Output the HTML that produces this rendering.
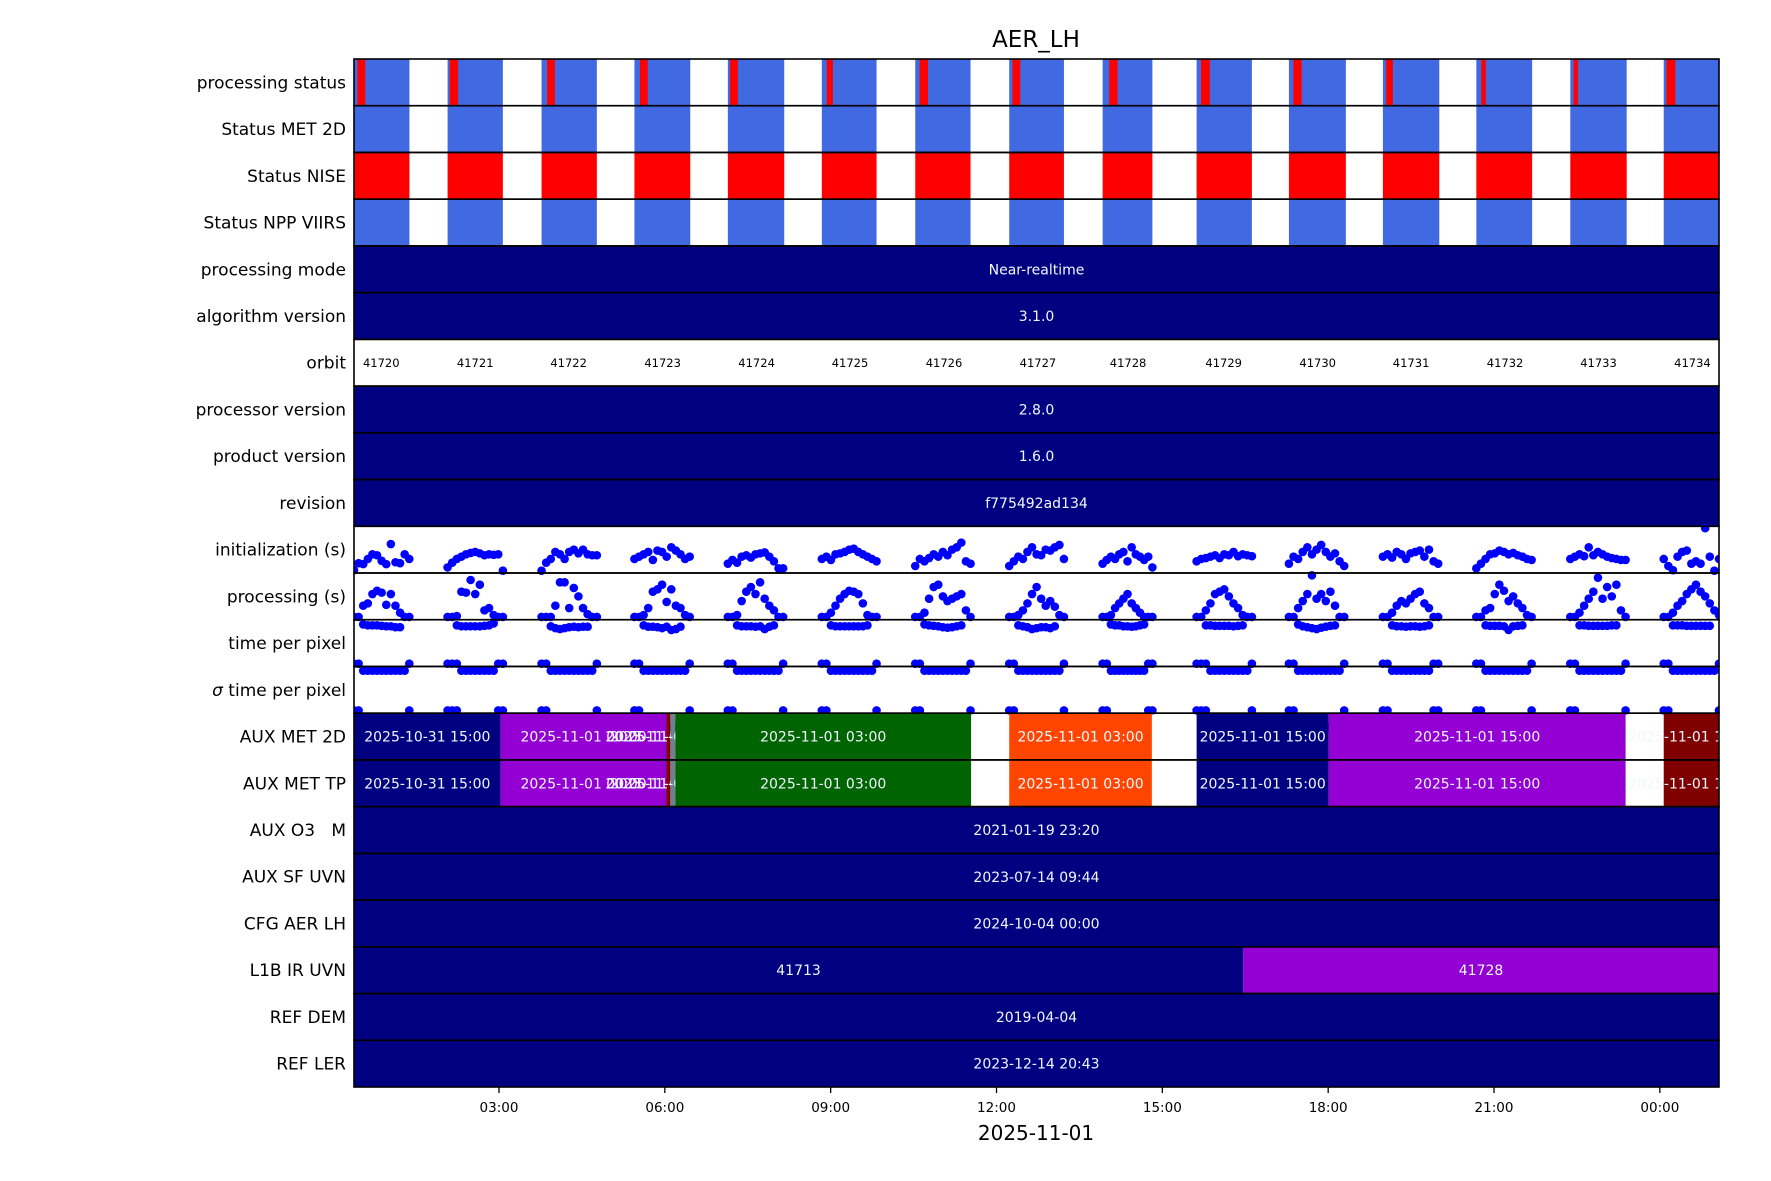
<!DOCTYPE html>
<html><head><meta charset="utf-8"><title>AER_LH</title>
<style>
html,body{margin:0;padding:0;background:#fff;}
svg{display:block;font-family:"DejaVu Sans","Liberation Sans",sans-serif;}
</style></head>
<body>
<svg id="chart" width="1771" height="1181" viewBox="0 0 1771 1181" xmlns="http://www.w3.org/2000/svg">
<text x="1036" y="47" font-size="23" text-anchor="middle" fill="#000">AER_LH</text>
<g id="bars"></g>
<g id="points"></g>
<g id="bars2"></g>
<g id="frames"></g>
<g id="ylabels"></g>
<g id="xaxis"></g>
<text x="1036" y="1140" font-size="20" text-anchor="middle" fill="#000">2025-11-01</text>
</svg>
<script>
const rowLabels = ["processing status","Status MET 2D","Status NISE","Status NPP VIIRS","processing mode","algorithm version","orbit","processor version","product version","revision","initialization (s)","processing (s)","time per pixel","\u03c3 time per pixel","AUX MET 2D","AUX MET TP","AUX O3   M","AUX SF UVN","CFG AER LH","L1B IR UVN","REF DEM","REF LER"];
const segStart = [0.377,2.07,3.77,5.45,7.14,8.84,10.53,12.23,13.92,15.62,17.29,18.99,20.68,22.38,24.07];
const segEnd = [1.38,3.07,4.77,6.46,8.16,9.83,11.53,13.22,14.82,16.62,18.32,20.01,21.69,23.40,25.07];
const failStart = [0.44,2.11,3.87,5.55,7.18,8.93,10.61,12.29,14.04,15.70,17.37,19.05,20.77,22.44,24.12];
const failEnd = [0.58,2.26,4.01,5.69,7.32,9.04,10.76,12.43,14.19,15.86,17.52,19.17,20.85,22.52,24.28];
const orbitCenters = [0.87,2.57,4.26,5.96,7.66,9.35,11.05,12.75,14.38,16.11,17.81,19.50,21.20,22.89,24.59];
const orbitNumbers = ["41720","41721","41722","41723","41724","41725","41726","41727","41728","41729","41730","41731","41732","41733","41734"];
const tickHours = [3,6,9,12,15,18,21,24];
const tickLabels = ["03:00","06:00","09:00","12:00","15:00","18:00","21:00","00:00"];
const auxMetStart = [0.377,3.03,6.03,6.10,6.19,12.23,15.62,18.01,24.07];
const auxMetEnd = [3.03,6.03,6.10,6.19,11.54,14.81,18.01,23.38,25.07];
const auxMetColor = ["#000080","#9400d3","#800000","#708090","#006400","#ff4500","#000080","#9400d3","#800000"];
const auxMetText = ["2025-10-31 15:00","2025-11-01 00:00","2025-11-01 03:00","2025-11-01 03:00","2025-11-01 03:00","2025-11-01 03:00","2025-11-01 15:00","2025-11-01 15:00","2025-11-01 15:00"];
const l1bStart = [0.377,16.46];
const l1bEnd = [16.46,25.07];
const l1bColor = ["#000080","#9400d3"];
const l1bText = ["41713","41728"];
const singleRows = {4:"Near-realtime",5:"3.1.0",7:"2.8.0",8:"1.6.0",9:"f775492ad134",16:"2021-01-19 23:20",17:"2023-07-14 09:44",18:"2024-10-04 00:00",20:"2019-04-04",21:"2023-12-14 20:43"};
const pointOffsetsMin = [0,5,10,15,20,25,30,35,40,45,50,55,60];
const initVals = [
[0.06,0.21,0.19,0.30,0.40,0.38,0.26,0.19,0.62,0.23,0.21,0.40,0.30],
[0.12,0.22,0.30,0.35,0.40,0.43,0.45,0.42,0.38,0.40,0.39,0.40,0.05],
[0.05,0.22,0.30,0.45,0.40,0.30,0.45,0.50,0.42,0.50,0.40,0.38,0.38],
[0.30,0.35,0.40,0.45,0.28,0.48,0.45,0.35,0.55,0.48,0.40,0.30,0.35],
[0.20,0.28,0.22,0.35,0.38,0.33,0.40,0.42,0.44,0.35,0.25,0.10,0.10],
[0.30,0.35,0.28,0.40,0.42,0.45,0.50,0.52,0.45,0.40,0.35,0.30,0.25],
[0.15,0.30,0.25,0.32,0.40,0.35,0.45,0.38,0.50,0.55,0.65,0.25,0.20],
[0.15,0.25,0.35,0.30,0.45,0.55,0.40,0.38,0.50,0.48,0.55,0.60,0.30],
[0.20,0.28,0.35,0.30,0.40,0.45,0.25,0.55,0.40,0.35,0.28,0.35,0.12],
[0.25,0.30,0.32,0.35,0.38,0.32,0.40,0.38,0.45,0.36,0.40,0.38,0.36],
[0.20,0.35,0.30,0.45,0.55,0.40,0.50,0.60,0.45,0.35,0.42,0.25,0.15],
[0.35,0.40,0.33,0.45,0.40,0.30,0.42,0.45,0.48,0.35,0.50,0.25,0.20],
[0.10,0.20,0.30,0.40,0.42,0.48,0.45,0.40,0.43,0.38,0.35,0.30,0.28],
[0.30,0.35,0.40,0.36,0.55,0.38,0.45,0.40,0.35,0.32,0.30,0.28,0.28],
[0.30,0.15,0.06,0.35,0.45,0.48,0.20,0.25,0.20,0.96,0.35,0.05,0.30]];
const procVals = [
[0.06,0.06,0.30,0.35,0.55,0.62,0.58,0.32,0.55,0.30,0.15,0.06,0.06],
[0.06,0.06,0.08,0.60,0.58,0.85,0.55,0.75,0.20,0.25,0.10,0.06,0.06],
[0.06,0.06,0.06,0.30,0.80,0.80,0.25,0.68,0.50,0.25,0.12,0.06,0.06],
[0.06,0.06,0.10,0.25,0.60,0.65,0.75,0.38,0.65,0.30,0.25,0.10,0.06],
[0.06,0.06,0.10,0.40,0.60,0.70,0.55,0.80,0.45,0.30,0.20,0.06,0.06],
[0.06,0.06,0.15,0.30,0.45,0.55,0.62,0.60,0.55,0.35,0.10,0.06,0.06],
[0.06,0.06,0.15,0.45,0.70,0.75,0.50,0.40,0.45,0.50,0.55,0.20,0.06],
[0.06,0.06,0.10,0.20,0.35,0.55,0.70,0.45,0.30,0.40,0.28,0.10,0.06],
[0.06,0.06,0.10,0.25,0.35,0.45,0.55,0.35,0.25,0.15,0.06,0.06,0.06],
[0.06,0.06,0.20,0.35,0.55,0.60,0.65,0.50,0.35,0.25,0.10,0.06,0.06],
[0.06,0.06,0.25,0.40,0.55,0.95,0.45,0.55,0.40,0.60,0.30,0.06,0.06],
[0.06,0.06,0.15,0.30,0.40,0.35,0.45,0.55,0.60,0.35,0.25,0.06,0.06],
[0.06,0.06,0.20,0.25,0.55,0.75,0.62,0.40,0.50,0.35,0.25,0.10,0.06],
[0.06,0.06,0.15,0.30,0.45,0.60,0.90,0.45,0.70,0.50,0.75,0.20,0.06],
[0.06,0.06,0.15,0.30,0.40,0.55,0.65,0.75,0.60,0.50,0.35,0.20,0.10]];
const procLowVals = [
[null,null,-0.10,-0.12,-0.12,-0.12,-0.13,-0.14,-0.14,-0.16,-0.16,null,null],
[null,null,-0.12,-0.14,-0.14,-0.14,-0.14,-0.14,-0.13,-0.12,-0.08,null,null],
[null,null,-0.14,-0.18,-0.20,-0.18,-0.16,-0.15,-0.16,-0.15,-0.15,null,null],
[null,null,-0.12,-0.15,-0.15,-0.16,-0.18,-0.15,-0.22,-0.20,-0.15,null,null],
[null,null,-0.12,-0.14,-0.14,-0.14,-0.15,-0.14,-0.20,-0.15,-0.12,null,null],
[null,null,-0.12,-0.14,-0.14,-0.14,-0.14,-0.14,-0.14,-0.14,-0.12,null,null],
[null,null,-0.10,-0.12,-0.13,-0.14,-0.16,-0.17,-0.16,-0.14,-0.12,null,null],
[null,null,-0.12,-0.14,-0.16,-0.20,-0.18,-0.16,-0.16,-0.18,-0.14,null,null],
[null,null,-0.10,-0.12,-0.12,-0.14,-0.14,-0.15,-0.14,-0.12,-0.10,null,null],
[null,null,-0.12,-0.12,-0.13,-0.13,-0.13,-0.13,-0.14,-0.13,-0.12,null,null],
[null,null,-0.10,-0.14,-0.16,-0.18,-0.20,-0.17,-0.15,-0.13,-0.12,null,null],
[null,null,-0.12,-0.14,-0.14,-0.15,-0.14,-0.14,-0.15,-0.14,-0.12,null,null],
[null,null,-0.12,-0.13,-0.13,-0.13,-0.14,-0.22,-0.14,-0.13,-0.12,null,null],
[null,null,-0.12,-0.12,-0.13,-0.13,-0.13,-0.13,-0.13,-0.12,-0.12,null,null],
[null,null,-0.12,-0.12,-0.12,-0.13,-0.13,-0.13,-0.13,-0.13,-0.13,null,null]];
const tppVals = [
[0.06,0.06,-0.09,-0.09,-0.09,-0.09,-0.09,-0.09,-0.09,-0.09,-0.09,-0.09,0.06],
[0.06,0.06,0.06,-0.09,-0.09,-0.09,-0.09,-0.09,-0.09,-0.09,-0.09,0.06,0.06],
[0.06,0.06,-0.09,-0.09,-0.09,-0.09,-0.09,-0.09,-0.09,-0.09,-0.09,-0.09,0.06],
[0.06,0.06,-0.09,-0.09,-0.09,-0.09,-0.09,-0.09,-0.09,-0.09,-0.09,-0.09,0.06],
[0.06,0.06,-0.09,-0.09,-0.09,-0.09,-0.09,-0.09,-0.09,-0.09,-0.09,-0.09,0.06],
[0.06,0.06,-0.09,-0.09,-0.09,-0.09,-0.09,-0.09,-0.09,-0.09,-0.09,-0.09,0.06],
[0.06,0.06,-0.09,-0.09,-0.09,-0.09,-0.09,-0.09,-0.09,-0.09,-0.09,-0.09,0.06],
[0.06,0.06,-0.09,-0.09,-0.09,-0.09,-0.09,-0.09,-0.09,-0.09,-0.09,-0.09,0.06],
[0.06,0.06,-0.09,-0.09,-0.09,-0.09,-0.09,-0.09,-0.09,-0.09,-0.09,0.06,0.06],
[0.06,0.06,0.06,-0.09,-0.09,-0.09,-0.09,-0.09,-0.09,-0.09,-0.09,-0.09,0.06],
[0.06,0.06,-0.09,-0.09,-0.09,-0.09,-0.09,-0.09,-0.09,-0.09,-0.09,-0.09,0.06],
[0.06,0.06,-0.09,-0.09,-0.09,-0.09,-0.09,-0.09,-0.09,-0.09,-0.09,0.06,0.06],
[0.06,0.06,-0.09,-0.09,-0.09,-0.09,-0.09,-0.09,-0.09,-0.09,-0.09,-0.09,0.06],
[0.06,0.06,-0.09,-0.09,-0.09,-0.09,-0.09,-0.09,-0.09,-0.09,-0.09,-0.09,0.06],
[0.06,0.06,-0.09,-0.09,-0.09,-0.09,-0.09,-0.09,-0.09,-0.09,-0.09,-0.09,0.06]];
const sigmaVals = [
[0.06,0.06,-0.3,-0.3,-0.3,-0.3,-0.3,-0.3,-0.3,-0.3,-0.3,-0.3,0.06],
[0.06,0.06,0.06,-0.3,-0.3,-0.3,-0.3,-0.3,-0.3,-0.3,-0.3,0.06,0.06],
[0.06,0.06,-0.3,-0.3,-0.3,-0.3,-0.3,-0.3,-0.3,-0.3,-0.3,-0.3,0.06],
[0.06,0.06,-0.3,-0.3,-0.3,-0.3,-0.3,-0.3,-0.3,-0.3,-0.3,-0.3,0.06],
[0.06,0.06,-0.3,-0.3,-0.3,-0.3,-0.3,-0.3,-0.3,-0.3,-0.3,-0.3,0.06],
[0.06,0.06,-0.3,-0.3,-0.3,-0.3,-0.3,-0.3,-0.3,-0.3,-0.3,-0.3,0.06],
[0.06,0.06,-0.3,-0.3,-0.3,-0.3,-0.3,-0.3,-0.3,-0.3,-0.3,-0.3,0.06],
[0.06,0.06,-0.3,-0.3,-0.3,-0.3,-0.3,-0.3,-0.3,-0.3,-0.3,-0.3,0.06],
[0.06,0.06,-0.3,-0.3,-0.3,-0.3,-0.3,-0.3,-0.3,-0.3,-0.3,0.06,0.06],
[0.06,0.06,0.06,-0.3,-0.3,-0.3,-0.3,-0.3,-0.3,-0.3,-0.3,-0.3,0.06],
[0.06,0.06,-0.3,-0.3,-0.3,-0.3,-0.3,-0.3,-0.3,-0.3,-0.3,-0.3,0.06],
[0.06,0.06,-0.3,-0.3,-0.3,-0.3,-0.3,-0.3,-0.3,-0.3,-0.3,0.06,0.06],
[0.06,0.06,-0.3,-0.3,-0.3,-0.3,-0.3,-0.3,-0.3,-0.3,-0.3,-0.3,0.06],
[0.06,0.06,-0.3,-0.3,-0.3,-0.3,-0.3,-0.3,-0.3,-0.3,-0.3,-0.3,0.06],
[0.06,0.06,-0.3,-0.3,-0.3,-0.3,-0.3,-0.3,-0.3,-0.3,-0.3,-0.3,0.06]];

const NS = "http://www.w3.org/2000/svg";
const X0 = 354, X1 = 1719, Y0 = 59, Y1 = 1087;
const H0 = 0.377, H1 = 25.07;
const rowH = (Y1 - Y0) / rowLabels.length;
function xScale(h){ return X0 + (h - H0) / (H1 - H0) * (X1 - X0); }
function rowTop(i){ return Y0 + i * rowH; }
function yScale(i, v){ return rowTop(i) + rowH - v * rowH; }
function mk(tag, attrs, parent){ const e = document.createElementNS(NS, tag); for (const k in attrs) e.setAttribute(k, attrs[k]); parent.appendChild(e); return e; }
const gBars = document.getElementById('bars'), gPts = document.getElementById('points'), gBars2 = document.getElementById('bars2');
const gFrames = document.getElementById('frames'), gY = document.getElementById('ylabels'), gX = document.getElementById('xaxis');

function bar(parent, row, h0, h1, color, name){
  const a = Math.max(xScale(h0), X0), b = Math.min(xScale(h1), X1);
  const r = mk('rect', {x:a, y:rowTop(row), width:Math.max(b-a,0), height:rowH, fill:color}, parent);
  
  
  return [a,b];
}
function label(parent, x, row, txt, size, name, color){
  const t = mk('text', {x:x, y:rowTop(row)+rowH/2+size*0.36, 'font-size':size, 'text-anchor':'middle', fill:color||'#f0f8ff'}, parent);
  t.textContent = txt;
  
  
}

// status rows
for (let k = 0; k < segStart.length; k++){
  bar(gBars, 0, segStart[k], segEnd[k], '#4169e1', 'processing-status-ok');
  bar(gBars, 0, failStart[k], failEnd[k], '#ff0000', 'processing-status-fail');
  bar(gBars, 1, segStart[k], segEnd[k], '#4169e1', 'status-met-2d-bar');
  bar(gBars, 2, segStart[k], segEnd[k], '#ff0000', 'status-nise-bar');
  bar(gBars, 3, segStart[k], segEnd[k], '#4169e1', 'status-npp-viirs-bar');
}
// single-value rows
for (const r in singleRows){
  const row = +r;
  const parent = row >= 14 ? gBars2 : gBars;
  const [a,b] = bar(parent, row, H0, H1, '#000080', 'bar-' + rowLabels[row].trim().replace(/\s+/g,'-').toLowerCase());
  label(parent, (a+b)/2, row, singleRows[r], 14, 'value-label');
}
// orbit labels
for (let k = 0; k < orbitCenters.length; k++){
  label(gBars, xScale(orbitCenters[k]), 6, orbitNumbers[k], 11.5, 'orbit-label', '#000');
}
// AUX MET rows
[14,15].forEach(row => {
  for (let k = 0; k < auxMetStart.length; k++){
    const [a,b] = bar(gBars2, row, auxMetStart[k], auxMetEnd[k], auxMetColor[k], 'aux-met-segment');
    label(gBars2, (a+b)/2, row, auxMetText[k], 14, 'aux-met-label');
  }
});
// L1B
for (let k = 0; k < l1bStart.length; k++){
  const [a,b] = bar(gBars2, 19, l1bStart[k], l1bEnd[k], l1bColor[k], 'l1b-segment');
  label(gBars2, (a+b)/2, 19, l1bText[k], 14, 'l1b-label');
}
// scatter
function scatter(row, vals, name){
  for (let k = 0; k < vals.length; k++){
    for (let j = 0; j < vals[k].length; j++){
      const v = vals[k][j];
      if (v === null) continue;
      const h = segStart[k] + pointOffsetsMin[j] / 60 * Math.min(1, (segEnd[k]-segStart[k]));
      if (h > H1 + 0.02) continue;
      const c = mk('circle', {cx:xScale(h), cy:yScale(row, v), r:4.3, fill:'#0000ff'}, gPts);
      
      
    }
  }
}
scatter(10, initVals, 'init-point');
scatter(11, procVals, 'processing-point');
scatter(11, procLowVals, 'processing-low-point');
scatter(12, tppVals, 'time-per-pixel-point');
scatter(13, sigmaVals, 'sigma-time-per-pixel-point');
// clip points to plot horizontally
const cp = mk('clipPath', {id:'plotclip'}, document.getElementById('chart'));
mk('rect', {x:X0, y:0, width:X1-X0, height:1181}, cp);
gPts.setAttribute('clip-path', 'url(#plotclip)');
gBars2.setAttribute('clip-path', 'url(#plotclip)');

// frames and labels
for (let i = 0; i < rowLabels.length; i++){
  const f = mk('rect', {x:X0, y:rowTop(i), width:X1-X0, height:rowH, fill:'none', stroke:'#000', 'stroke-width':1.6}, gFrames);
  
  
  const t = mk('text', {x:346, y:rowTop(i)+rowH/2+6, 'font-size':17, 'text-anchor':'end', fill:'#000', 'xml:space':'preserve'}, gY);
  t.style.whiteSpace = 'pre';
  if (i === 13){
    const s = mk('tspan', {'font-style':'italic'}, t); s.textContent = '\u03c3';
    const r2 = mk('tspan', {}, t); r2.textContent = ' time per pixel';
  } else t.textContent = rowLabels[i];
  
  
}
// x axis
for (let k = 0; k < tickHours.length; k++){
  const x = xScale(tickHours[k]);
  const l = mk('line', {x1:x, x2:x, y1:Y1, y2:Y1+6, stroke:'#000', 'stroke-width':1.3}, gX);
  
  
  const t = mk('text', {x:x, y:1112, 'font-size':13.5, 'text-anchor':'middle', fill:'#000'}, gX);
  t.textContent = tickLabels[k];
  
  
}
</script>
</body></html>
